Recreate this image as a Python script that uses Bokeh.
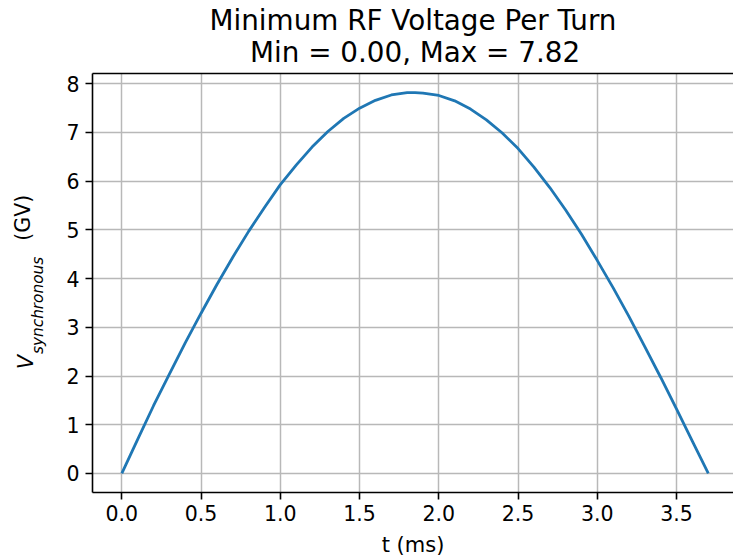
from bokeh.plotting import figure
from bokeh.models import LinearAxis, FixedTicker, PrintfTickFormatter, Range1d
from bokeh.embed import file_html
from bokeh.resources import INLINE

# ---- data ----
t_ms = [0.0, 0.1, 0.2, 0.3, 0.4, 0.5, 0.6, 0.7, 0.8, 0.9,
        1.0, 1.1, 1.2, 1.3, 1.4, 1.5, 1.6, 1.7, 1.8, 1.85, 1.9,
        2.0, 2.1, 2.2, 2.3, 2.4, 2.5, 2.6, 2.7, 2.8, 2.9,
        3.0, 3.1, 3.2, 3.3, 3.4, 3.5, 3.6, 3.7]
v_gv = [0.00, 0.70, 1.39, 2.04, 2.68, 3.29, 3.88, 4.44, 4.97, 5.46,
        5.93, 6.33, 6.70, 7.02, 7.29, 7.50, 7.66, 7.77, 7.82, 7.82, 7.81,
        7.76, 7.65, 7.48, 7.26, 6.99, 6.67, 6.29, 5.87, 5.41, 4.91,
        4.37, 3.81, 3.22, 2.60, 1.97, 1.32, 0.66, 0.00]

x_ticks = [0.0, 0.5, 1.0, 1.5, 2.0, 2.5, 3.0, 3.5]
y_ticks = [0, 1, 2, 3, 4, 5, 6, 7, 8]
title_lines = ["Minimum RF Voltage Per Turn", "Min = 0.00, Max = 7.82"]
x_label = "t (ms)"
y_label_main = "V"
y_label_sub = "synchronous"
y_label_unit = "(GV)"

# ---- layout constants ----
FONT = "DejaVu Sans"
TICK_PX = "20.5px"
TITLE_PX = "27.8px"
X_LO, X_HI = -0.185, 3.859
Y_LO, Y_HI = -0.391, 8.211
TITLE_X = 1.85          # centre of the axes box
Y_POS_V = 2.29          # centres of the y label pieces along the axis
Y_POS_SUB = 3.45
Y_POS_UNIT = 5.25

p = figure(width=733, height=560,
           x_range=Range1d(X_LO, X_HI), y_range=Range1d(Y_LO, Y_HI),
           output_backend="svg", toolbar_location=None,
           min_border_left=92, min_border_right=0,
           min_border_top=72, min_border_bottom=68)
p.title.visible = False
p.outline_line_color = None
p.background_fill_color = "white"
p.border_fill_color = "white"

p.line(t_ms, v_gv, line_color="#1f77b4", line_width=2.8)


def plain(ax):
    ax.major_tick_out = 0
    ax.major_tick_in = 0
    ax.minor_tick_out = 0
    ax.minor_tick_in = 0
    ax.major_label_text_font = FONT
    ax.major_label_text_color = "black"
    ax.axis_label_text_font = FONT
    ax.axis_label_text_color = "black"
    ax.axis_label_text_font_style = "normal"


# main axes
p.xaxis.ticker = FixedTicker(ticks=x_ticks)
p.xaxis.formatter = PrintfTickFormatter(format="%.1f")
p.yaxis.ticker = FixedTicker(ticks=y_ticks)
p.yaxis.formatter = PrintfTickFormatter(format="%d")
for ax in (p.xaxis[0], p.yaxis[0]):
    plain(ax)
    ax.axis_line_color = "black"
    ax.axis_line_width = 1.6
    ax.major_tick_line_color = "black"
    ax.major_tick_line_width = 1.6
    ax.major_tick_out = 7
    ax.major_label_text_font_size = TICK_PX
p.xaxis.major_label_standoff = 5
p.yaxis.major_label_standoff = 6
p.xaxis.axis_label = x_label
p.xaxis.axis_label_text_font_size = "21px"
p.xaxis.axis_label_standoff = 9

# top spine carrying the two title lines
top = LinearAxis(ticker=FixedTicker(ticks=[TITLE_X]),
                 major_label_overrides={TITLE_X: title_lines[1]},
                 axis_label=title_lines[0])
plain(top)
top.axis_line_color = "black"
top.axis_line_width = 1.6
top.major_label_text_font_size = TITLE_PX
top.axis_label_text_font_size = TITLE_PX
top.major_label_standoff = 5
top.axis_label_standoff = -4
p.add_layout(top, "above")

# y label pieces: V, subscript, unit
ax_sub = LinearAxis(ticker=FixedTicker(ticks=[Y_POS_SUB]),
                    major_label_overrides={Y_POS_SUB: y_label_sub},
                    major_label_orientation="vertical")
plain(ax_sub)
ax_sub.axis_line_color = None
ax_sub.major_label_text_font_size = "15.3px"
ax_sub.major_label_text_font_style = "italic"
ax_sub.major_label_standoff = 16
p.add_layout(ax_sub, "left")

ax_v = LinearAxis(ticker=FixedTicker(ticks=[Y_POS_V]),
                  major_label_overrides={Y_POS_V: y_label_main},
                  major_label_orientation="vertical")
plain(ax_v)
ax_v.axis_line_color = None
ax_v.major_label_text_font_size = TICK_PX
ax_v.major_label_text_font_style = "italic"
ax_v.major_label_standoff = -12
p.add_layout(ax_v, "left")

ax_u = LinearAxis(ticker=FixedTicker(ticks=[Y_POS_UNIT]),
                  major_label_overrides={Y_POS_UNIT: y_label_unit},
                  major_label_orientation="vertical")
plain(ax_u)
ax_u.axis_line_color = None
ax_u.major_label_text_font_size = TICK_PX
ax_u.major_label_standoff = -24
p.add_layout(ax_u, "left")

p.xgrid.grid_line_color = "#b8b8b8"
p.ygrid.grid_line_color = "#b8b8b8"
p.xgrid.grid_line_width = 1.5
p.ygrid.grid_line_width = 1.5

open("out.html", "w").write(file_html(p, INLINE))
